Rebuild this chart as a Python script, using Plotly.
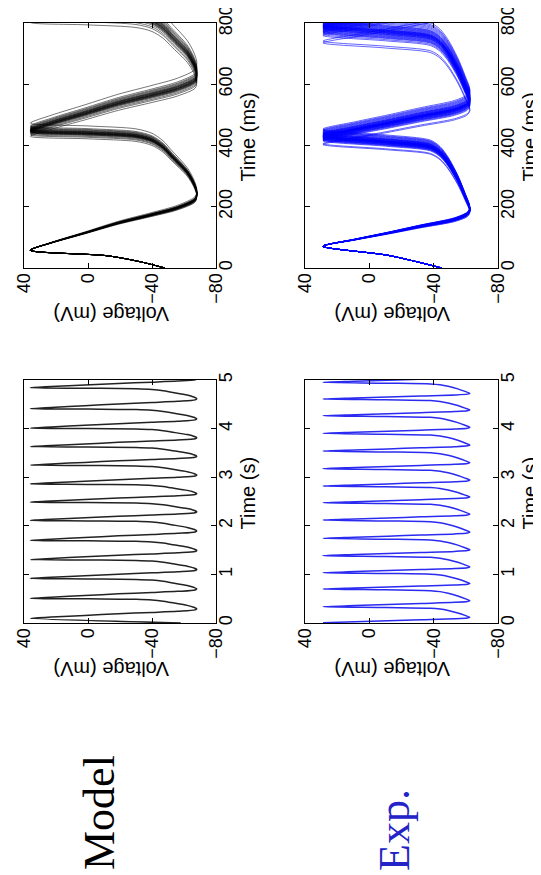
import plotly.graph_objects as go

W, H = 541, 875

# ---------------- data ----------------
# Model: one cycle of the membrane potential, phase from a peak to the next peak
MODEL_CYCLE_PHASE = [0.0, 0.062, 0.144, 0.228, 0.297, 0.354, 0.423, 0.48, 0.56, 0.65, 0.79, 0.86, 0.92, 0.955, 0.978, 1.0]
MODEL_CYCLE_MV = [36, 23, 2, -19, -40, -56, -67, -68, -66, -62, -52, -47, -40, -30, 0, 36]
# Model: onset before the first spike (800 ms panel)
MODEL_ONSET_MS = [0, 20, 40, 58]
MODEL_ONSET_MV = [-48, -33, -12, 36]
MODEL_FIRST_PEAK_MS = 58
MODEL_PERIODS_MS = [372, 377, 380, 383, 385, 386, 387, 388, 389, 390, 390, 391,
                    392, 393, 394, 395, 396, 397, 399, 401, 403, 406, 415]
# Model: 5 s recording, spike peak times (s)
MODEL_5S_START_MV = -58
MODEL_5S_PEAKS_S = [0.096, 0.506, 0.916, 1.305, 1.70, 2.11, 2.486, 2.86,
                    3.25, 3.63, 4.01, 4.41, 4.84, 5.23]

# Experiment
EXP_CYCLE_PHASE = [0.0, 0.061, 0.120, 0.182, 0.243, 0.293, 0.335, 0.455, 0.606, 0.760, 0.85, 0.905, 0.95, 1.0]
EXP_CYCLE_MV = [28.8, 9, -11.6, -32, -53, -61, -62.5, -59.5, -55, -49, -44, -38, -10, 28.8]
EXP_ONSET_MS = [0, 41, 71]
EXP_ONSET_MV = [-45, -12, 28.8]
EXP_FIRST_PEAK_MS = 71
EXP_PERIODS_MS = [332, 335, 344, 346, 348, 349, 350, 351, 352, 353, 354, 355, 355, 356,
                  357, 357, 358, 358, 359, 359, 360, 360, 361, 361, 362, 362, 363,
                  364, 365, 366, 367, 368, 369, 370, 372, 374, 376, 378, 380, 383]
EXP_5S_PEAKS_S = [0.006, 0.336, 0.70, 1.036, 1.386, 1.742, 2.119, 2.476, 2.819,
                  3.176, 3.539, 3.902, 4.266, 4.609, 4.952, 5.31]

VOLT_TICKS = [40, 0, -40, -80]
MS_TICKS = [0, 200, 400, 600, 800]
S_TICKS = [0, 1, 2, 3, 4, 5]


def build(onset_t, onset_v, peaks, phase, volts):
    t = list(onset_t[:-1])
    v = list(onset_v[:-1])
    for a, b in zip(peaks[:-1], peaks[1:]):
        P = b - a
        for ph, vv in zip(phase[:-1], volts[:-1]):
            t.append(a + ph * P)
            v.append(vv)
    t.append(peaks[-1])
    v.append(volts[-1])
    return t, v


fig = go.Figure()

panels = {
    "mod800": dict(x0=16, x1=208, y0=15, y1=260),
    "exp800": dict(x0=297, x1=490, y0=15, y1=260),
    "mod5": dict(x0=16, x1=208, y0=372, y1=615),
    "exp5": dict(x0=297, x1=490, y0=372, y1=615),
}
axis_ids = {"mod800": "", "exp800": "2", "mod5": "3", "exp5": "4"}

for P in MODEL_PERIODS_MS:
    peaks = [MODEL_FIRST_PEAK_MS + k * P for k in range(4)]
    t, v = build(MODEL_ONSET_MS, MODEL_ONSET_MV, peaks, MODEL_CYCLE_PHASE, MODEL_CYCLE_MV)
    fig.add_trace(go.Scatter(x=v, y=t, mode="lines", xaxis="x", yaxis="y",
                             line=dict(color="rgba(0,0,0,0.6)", width=0.9, shape="spline", smoothing=0.8),
                             showlegend=False, hoverinfo="skip"))

for P in EXP_PERIODS_MS:
    peaks = [EXP_FIRST_PEAK_MS + k * P for k in range(4)]
    t, v = build(EXP_ONSET_MS, EXP_ONSET_MV, peaks, EXP_CYCLE_PHASE, EXP_CYCLE_MV)
    fig.add_trace(go.Scatter(x=v, y=t, mode="lines", xaxis="x2", yaxis="y2",
                             line=dict(color="rgba(0,0,255,0.6)", width=1, shape="spline", smoothing=0.8),
                             showlegend=False, hoverinfo="skip"))

t, v = build([0, MODEL_5S_PEAKS_S[0]], [MODEL_5S_START_MV, MODEL_CYCLE_MV[0]],
             MODEL_5S_PEAKS_S, MODEL_CYCLE_PHASE, MODEL_CYCLE_MV)
fig.add_trace(go.Scatter(x=v, y=t, mode="lines", xaxis="x3", yaxis="y3",
                         line=dict(color="#222222", width=1.5, shape="spline", smoothing=0.8),
                         showlegend=False, hoverinfo="skip"))

t, v = build([EXP_5S_PEAKS_S[0]], [EXP_CYCLE_MV[0]],
             EXP_5S_PEAKS_S, EXP_CYCLE_PHASE, EXP_CYCLE_MV)
fig.add_trace(go.Scatter(x=v, y=t, mode="lines", xaxis="x4", yaxis="y4",
                         line=dict(color="#2a2af0", width=1.5, shape="spline", smoothing=0.8),
                         showlegend=False, hoverinfo="skip"))

TICKFONT = dict(family="Liberation Sans, Arial, sans-serif", size=18, color="black")
layout = dict(width=W, height=H, margin=dict(l=0, r=0, t=0, b=0, autoexpand=False),
              paper_bgcolor="white", plot_bgcolor="white", showlegend=False)

for key, p in panels.items():
    sid = axis_ids[key]
    xdom = [p["x0"] / W, p["x1"] / W]
    ydom = [1 - p["y1"] / H, 1 - p["y0"] / H]
    is5 = key.endswith("5")
    layout["xaxis" + sid] = dict(
        domain=xdom, anchor="y" + sid, range=[40, -80], tickvals=VOLT_TICKS,
        ticks="inside", ticklen=5, tickcolor="black", tickangle=-90,
        ticklabelstandoff=-3,
        showline=True, linecolor="black", linewidth=1, mirror="ticks",
        showgrid=False, zeroline=False, tickfont=TICKFONT, fixedrange=True,
        automargin=False, ticklabeloverflow="allow")
    layout["yaxis" + sid] = dict(
        domain=ydom, anchor="x" + sid, side="right",
        range=[0, 5] if is5 else [0, 800], tickvals=S_TICKS if is5 else MS_TICKS,
        ticks="inside", ticklen=5, tickcolor="black", tickangle=-90,
        ticklabelstandoff=-7,
        showline=True, linecolor="black", linewidth=1, mirror="ticks",
        showgrid=False, zeroline=False, tickfont=TICKFONT, fixedrange=True,
        automargin=False, ticklabeloverflow="allow")

# rotated annotations are drawn slightly right/down of their anchor; compensate
DX, DY = -9, -8
TITLEFONT = dict(family="Liberation Sans, Arial, sans-serif", size=20, color="black")
ann = []
for key, p in panels.items():
    cx = (p["x0"] + p["x1"]) / 2
    cy = (p["y0"] + p["y1"]) / 2
    ylab = p["y1"] + 46
    ann.append(dict(text="Voltage (mV)", x=(cx + DX) / W, y=1 - ylab / H,
                    xref="paper", yref="paper",
                    showarrow=False, textangle=180, font=TITLEFONT,
                    xanchor="center", yanchor="middle"))
    ann.append(dict(text="Time (s)" if key.endswith("5") else "Time (ms)",
                    x=(p["x1"] + 40 + DX) / W, y=1 - (cy + DY) / H,
                    xref="paper", yref="paper",
                    showarrow=False, textangle=-90, font=TITLEFONT,
                    xanchor="center", yanchor="middle"))

ann.append(dict(text="Model", x=(100 + DX) / W, y=1 - (813 + DY) / H, xref="paper", yref="paper",
                showarrow=False, textangle=-90,
                font=dict(family="Liberation Serif, Times New Roman, serif", size=44, color="black"),
                xanchor="center", yanchor="middle"))
ann.append(dict(text="Exp.", x=(395 + DX) / W, y=1 - (830 + DY) / H, xref="paper", yref="paper",
                showarrow=False, textangle=-90,
                font=dict(family="Liberation Serif, Times New Roman, serif", size=44, color="#2323c8"),
                xanchor="center", yanchor="middle"))
layout["annotations"] = ann

fig.update_layout(**layout)
fig.write_html("out.html", config={"displayModeBar": False})
